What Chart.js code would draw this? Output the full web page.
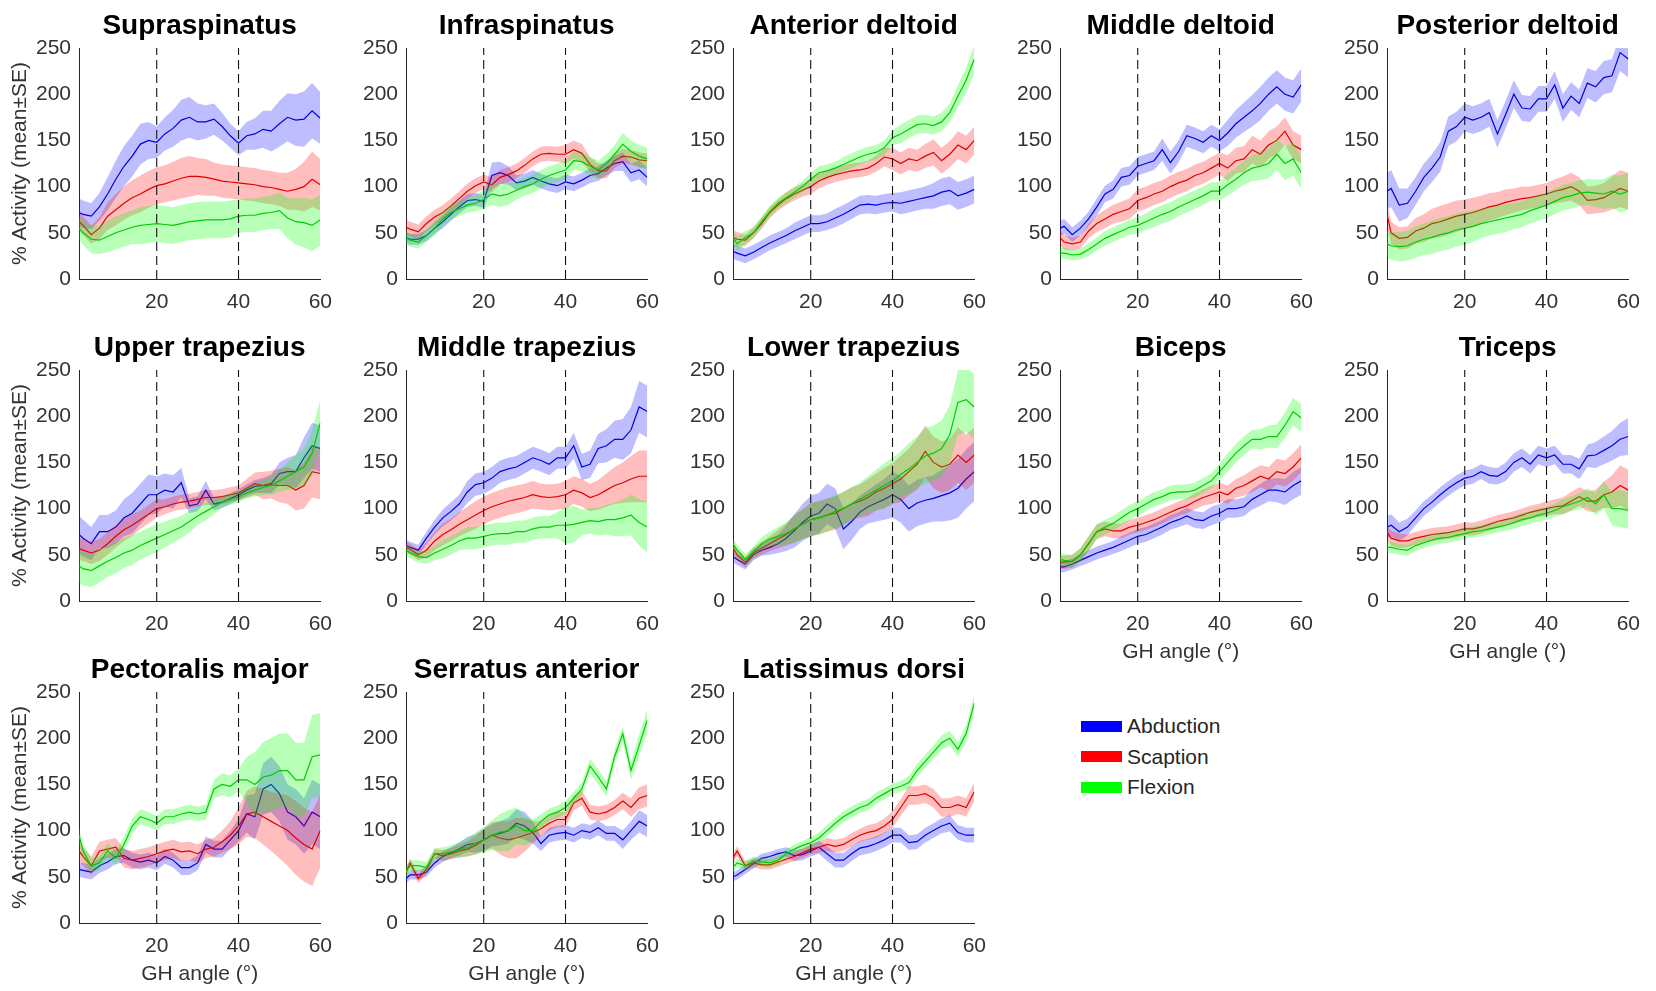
<!DOCTYPE html>
<html>
<head>
<meta charset="utf-8">
<title>Muscle activity across GH angle</title>
<script src="https://cdn.jsdelivr.net/npm/chart.js@4.4.1/dist/chart.umd.min.js"></script>
<style>
  html, body { margin: 0; padding: 0; background: #fff; overflow: hidden; }
  body { width: 1656px; height: 991px; position: relative; font-family: "Liberation Sans", Arial, Helvetica, sans-serif; }
  canvas { position: absolute; }
  .legend { position: absolute; left: 1081px; top: 711px; color: #262626; font-size: 21px; }
  .legend .row { height: 30.5px; display: flex; align-items: center; }
  .legend .sw { width: 41px; height: 11px; margin-right: 5px; }
</style>
</head>
<body>
<div class="legend" id="legend"></div>
<script>
// GH angle samples (deg) shared by every series
const ANGLES = [1, 2, 4, 6, 8, 10, 12, 14, 16, 18, 20, 22, 24, 26, 28, 30, 32, 34, 36, 38, 40, 42, 44, 46, 48, 50, 52, 54, 56, 58, 60];
const X_TICKS = [20, 40, 60];
const PHASE_LINES = [20, 40];
const MOVEMENTS = ['Abduction', 'Scaption', 'Flexion'];

// mean % activity and SE, one pair per muscle and movement
const SUP_ABD = [72,70,68,78,92,108,122,133,146,150,148,157,163,172,175,170,170,173,165,155,147,155,157,162,160,168,175,172,173,182,174];
const SUP_ABD_SE = [15,15,14,15,18,20,22,22,22,20,17,18,20,22,22,20,18,17,15,13,13,15,17,20,22,25,26,28,30,30,28];
const SUP_SCA = [62,58,48,55,68,75,82,88,92,97,101,103,106,109,111,111,110,108,106,105,104,103,102,100,99,97,95,97,100,108,102];
const SUP_SCA_SE = [10,10,10,12,15,17,18,19,20,20,20,20,21,22,22,20,20,18,18,18,18,18,18,18,18,18,20,22,27,30,28];
const SUP_FLX = [55,50,43,42,46,50,53,56,58,59,60,59,58,60,62,63,64,64,64,65,68,69,69,71,72,74,66,62,61,58,64];
const SUP_FLX_SE = [12,13,15,15,17,18,18,18,20,20,20,20,20,20,20,20,20,20,20,20,18,18,18,18,18,20,22,25,27,28,28];

const INF_ABD = [45,43,43,47,55,62,70,78,85,86,84,112,115,112,104,106,110,106,103,101,105,103,107,112,114,120,125,127,115,118,110];
const INF_ABD_SE = [6,6,6,6,6,7,7,7,7,7,7,14,12,10,8,8,8,8,8,8,8,8,8,8,8,8,8,10,10,10,10];
const INF_SCA = [56,54,51,60,67,72,79,87,95,101,105,102,110,113,117,123,130,135,136,135,135,140,136,124,117,117,128,133,132,129,128];
const INF_SCA_SE = [8,8,8,8,8,8,8,8,8,8,8,8,8,8,8,8,8,8,8,8,10,10,10,8,8,8,8,8,8,8,8];
const INF_FLX = [45,42,40,47,55,65,72,76,80,82,86,92,90,92,96,100,103,108,112,115,118,128,127,122,118,125,135,146,138,133,130];
const INF_FLX_SE = [7,7,7,7,8,8,8,8,8,9,10,12,12,12,10,10,10,10,10,10,10,10,10,10,10,10,10,12,12,12,12];

const ANT_ABD = [30,28,25,29,34,39,43,47,52,56,60,60,62,66,70,75,80,81,80,82,83,82,84,86,88,90,94,96,90,93,97];
const ANT_ABD_SE = [8,8,8,8,8,8,8,8,9,9,9,9,9,10,10,10,10,10,10,10,10,12,12,12,12,14,15,15,15,15,15];
const ANT_SCA = [45,43,42,50,60,72,80,87,92,96,100,106,110,113,115,117,118,120,125,132,130,125,130,128,133,137,128,135,145,140,150];
const ANT_SCA_SE = [8,8,6,6,6,6,6,7,7,7,8,8,8,8,8,8,8,8,9,10,12,12,12,12,13,14,14,14,15,15,15];
const ANT_FLX = [45,38,45,50,62,73,82,88,94,100,108,115,117,120,124,128,132,135,137,142,153,157,162,167,168,166,170,180,198,215,238];
const ANT_FLX_SE = [8,8,7,6,6,6,6,6,6,6,7,7,7,7,8,8,8,8,8,8,8,10,10,10,10,10,10,10,12,14,15];

const MID_ABD = [55,57,48,55,65,78,92,97,110,112,122,125,128,140,126,138,155,152,148,155,150,158,168,175,182,190,200,208,200,197,210];
const MID_ABD_SE = [8,8,8,8,8,9,9,10,10,10,10,10,10,12,12,12,12,12,12,12,12,14,15,16,17,18,18,18,18,18,18];
const MID_SCA = [45,40,38,40,52,60,65,70,73,76,85,88,92,95,100,104,107,112,115,120,125,120,128,130,140,135,145,150,160,145,140];
const MID_SCA_SE = [8,8,7,7,8,9,10,10,11,11,12,12,12,12,12,12,12,12,12,12,12,14,14,14,15,15,15,15,15,15,15];
const MID_FLX = [28,28,26,27,32,38,44,48,52,56,58,62,66,70,73,78,82,86,90,95,95,102,108,115,120,122,125,135,125,130,115];
const MID_FLX_SE = [6,6,6,6,7,7,8,8,8,8,9,9,10,10,10,10,10,10,10,10,10,12,12,13,14,15,16,17,18,18,18];

const POS_ABD = [95,98,80,82,95,110,120,132,160,165,175,172,175,180,157,178,200,185,184,195,195,210,185,198,190,212,208,218,220,245,238];
const POS_ABD_SE = [20,20,18,16,15,15,15,16,16,16,15,15,15,15,15,15,15,14,14,14,14,15,15,15,15,16,17,18,18,20,20];
const POS_SCA = [70,50,44,45,52,55,60,62,65,68,70,72,75,78,80,83,85,87,88,90,92,95,97,100,95,85,86,88,93,98,95];
const POS_SCA_SE = [12,12,12,12,14,15,16,17,17,17,16,16,15,15,14,14,13,13,12,12,12,13,14,15,15,15,15,16,18,20,20];
const POS_FLX = [38,36,35,36,40,43,45,48,50,53,55,57,60,62,64,66,68,70,74,77,80,84,88,90,93,94,93,92,95,92,95];
const POS_FLX_SE = [15,15,16,16,17,17,18,18,18,18,18,17,16,15,15,15,14,14,14,14,14,14,14,14,14,14,15,16,18,20,20];

const UPP_ABD = [72,68,62,75,75,80,90,95,105,115,115,120,118,128,103,105,120,105,107,111,115,120,124,125,127,138,140,140,155,168,165];
const UPP_ABD_SE = [20,20,18,18,18,18,20,22,22,22,20,18,18,16,8,8,10,7,6,6,6,6,7,8,10,12,15,18,22,25,25];
const UPP_SCA = [57,55,52,55,62,70,77,82,88,94,100,102,105,107,108,110,112,112,113,115,117,122,127,125,126,125,125,120,125,140,138];
const UPP_SCA_SE = [12,12,12,12,12,12,12,12,10,10,10,8,8,8,8,8,8,8,8,8,8,10,12,15,15,18,20,22,25,28,28];
const UPP_FLX = [38,35,33,38,43,47,52,55,60,64,68,72,76,80,86,92,97,102,107,110,113,117,120,123,125,130,135,140,145,160,193];
const UPP_FLX_SE = [18,18,18,18,17,17,16,16,15,15,15,14,13,12,12,10,10,8,6,6,6,6,7,8,10,12,15,18,20,25,25];

const MTR_ABD = [60,58,55,68,80,90,97,105,118,126,128,133,140,143,145,150,155,152,148,155,155,168,145,148,165,168,175,175,185,210,205];
const MTR_ABD_SE = [6,6,6,7,8,9,10,10,12,12,12,12,12,12,12,12,12,12,12,12,12,14,14,15,16,18,20,22,25,28,28];
const MTR_SCA = [58,56,50,55,65,72,77,83,88,93,98,102,105,108,110,112,115,113,112,113,115,120,117,112,115,120,125,128,132,135,135];
const MTR_SCA_SE = [6,6,6,8,10,12,12,13,14,15,15,15,15,15,15,15,15,14,14,14,15,15,15,15,16,18,20,22,25,28,28];
const MTR_FLX = [55,52,48,47,52,56,60,65,68,68,70,72,73,73,75,75,78,80,80,82,82,83,85,87,86,88,88,90,93,85,80];
const MTR_FLX_SE = [6,6,6,7,8,10,10,10,12,12,12,12,12,12,12,12,12,12,12,14,20,20,14,14,15,16,18,20,22,25,28];

const LTR_ABD = [48,45,40,50,55,58,62,68,76,85,92,95,105,100,78,86,96,102,106,110,115,110,100,106,109,111,114,117,122,132,140];
const LTR_ABD_SE = [6,6,6,6,6,8,10,14,18,20,22,22,22,22,22,20,18,18,20,22,25,25,25,25,25,25,28,30,32,32,32];
const LTR_SCA = [58,50,42,52,57,62,67,72,78,83,88,90,93,95,100,105,108,112,118,122,127,132,140,148,162,150,145,148,158,150,158];
const LTR_SCA_SE = [6,6,6,6,7,8,10,12,15,16,18,18,18,18,18,18,18,20,20,22,22,25,25,28,28,28,28,28,30,30,30];
const LTR_FLX = [62,55,45,53,62,67,70,73,78,83,88,90,93,97,100,105,110,115,120,125,130,137,143,150,157,160,165,180,215,218,210];
const LTR_FLX_SE = [6,6,6,6,7,8,10,12,15,16,18,18,18,18,18,18,18,20,22,24,25,25,28,28,30,30,30,32,35,35,35];

const BIC_ABD = [37,37,40,44,48,52,55,58,62,66,70,72,76,80,85,88,92,88,87,92,95,100,100,102,110,115,120,120,118,125,130];
const BIC_ABD_SE = [6,6,6,6,7,7,7,7,8,8,8,8,8,8,8,8,9,9,9,10,10,10,10,10,11,12,12,13,14,15,15];
const BIC_SCA = [42,42,43,50,62,75,78,76,76,80,82,85,88,92,96,100,103,108,112,115,118,115,122,125,130,135,132,140,138,145,155];
const BIC_SCA_SE = [7,7,7,7,8,8,8,8,8,8,8,8,8,8,8,8,8,9,9,10,10,10,10,11,12,12,13,14,14,15,15];
const BIC_FLX = [45,44,43,50,62,75,80,84,90,96,100,105,110,113,117,118,118,120,125,130,140,150,160,168,175,175,178,178,190,205,198];
const BIC_FLX_SE = [7,7,7,7,8,8,8,8,8,8,8,8,8,8,8,8,8,8,8,8,9,10,10,10,10,11,12,13,14,15,15];

const TRI_ABD = [80,82,75,80,90,100,107,115,122,128,133,135,140,136,135,140,150,155,148,158,155,158,148,148,143,157,158,163,168,175,178];
const TRI_ABD_SE = [12,12,10,9,8,8,8,8,8,8,8,8,8,9,9,10,10,10,10,10,10,10,10,10,11,12,14,15,16,18,20];
const TRI_SCA = [75,68,65,65,68,70,72,73,74,76,78,78,80,83,86,88,90,93,96,98,100,102,103,108,113,108,108,115,118,125,120];
const TRI_SCA_SE = [8,8,8,7,7,7,7,7,7,7,7,7,7,7,7,7,7,7,7,7,8,8,9,10,10,11,12,14,18,22,22];
const TRI_FLX = [58,58,56,55,60,63,66,68,69,71,73,75,76,78,80,82,85,88,90,93,95,98,102,105,108,112,105,115,100,100,98];
const TRI_FLX_SE = [6,6,6,6,6,6,6,6,6,6,6,6,6,6,6,6,7,7,7,7,7,7,8,8,9,10,12,15,18,20,20];

const PEC_ABD = [58,57,55,62,66,72,73,68,66,68,65,72,68,60,60,65,85,80,80,90,100,118,115,145,150,140,120,115,105,120,115];
const PEC_ABD_SE = [8,8,8,8,8,8,8,8,8,8,8,8,8,8,8,8,9,9,9,10,12,20,25,28,30,30,30,30,30,35,35];
const PEC_SCA = [78,72,62,78,80,82,70,68,70,72,75,78,80,77,78,75,80,82,88,95,105,118,120,115,110,105,100,92,85,80,100];
const PEC_SCA_SE = [10,10,10,10,10,10,10,10,10,10,10,10,10,10,10,10,10,10,12,15,20,25,28,30,32,35,38,40,40,40,40];
const PEC_FLX = [95,78,62,65,78,70,85,105,115,112,108,115,115,118,120,118,120,145,150,148,155,155,150,158,160,165,165,155,155,180,182];
const PEC_FLX_SE = [8,8,8,8,8,8,8,8,8,8,8,8,8,8,8,8,8,10,12,12,12,25,35,38,40,40,40,40,40,45,45];

const SER_ABD = [48,52,52,55,65,72,76,80,85,86,90,95,97,100,108,105,98,86,95,97,98,95,100,98,103,97,97,90,100,110,105];
const SER_ABD_SE = [5,5,5,5,5,6,6,7,8,10,12,12,13,14,15,15,12,8,8,8,8,8,8,8,8,8,8,10,10,12,12];
const SER_SCA = [55,65,48,58,75,73,75,78,80,84,90,95,92,90,92,95,98,102,108,112,112,130,135,120,118,120,125,132,125,135,138];
const SER_SCA_SE = [5,5,5,5,5,6,6,7,8,10,12,14,18,20,22,18,12,8,8,8,8,8,8,8,8,8,8,9,10,12,12];
const SER_FLX = [55,62,62,60,75,75,77,79,82,86,90,95,98,100,105,100,100,110,117,120,125,135,145,170,158,145,180,205,165,192,220];
const SER_FLX_SE = [6,6,6,6,6,7,7,8,10,12,14,16,20,22,20,16,12,8,7,7,7,7,7,8,8,8,8,8,10,12,12];

const LAT_ABD = [50,52,58,64,70,72,75,77,73,74,78,82,75,68,68,75,81,83,86,90,95,95,87,88,95,100,105,108,98,95,95];
const LAT_ABD_SE = [5,5,5,5,5,5,5,5,6,6,6,7,8,8,8,8,8,8,8,8,8,8,8,8,8,8,8,9,8,8,8];
const LAT_SCA = [70,78,62,65,63,63,66,69,72,76,80,82,85,83,85,90,95,98,100,105,112,125,138,138,140,135,125,125,128,125,142];
const LAT_SCA_SE = [5,5,5,5,5,5,5,5,5,5,6,6,7,7,7,7,7,8,8,8,9,9,10,10,10,10,10,10,10,10,10];
const LAT_FLX = [60,65,62,67,66,65,68,75,80,84,87,92,100,108,115,120,125,128,135,140,145,148,152,165,175,185,195,200,188,205,238];
const LAT_FLX_SE = [5,5,5,5,5,5,5,5,5,5,6,6,6,6,6,6,6,6,6,6,6,6,7,7,7,7,8,8,8,9,10];

const PANELS = [
  { name: 'Supraspinatus',      mean: [SUP_ABD, SUP_SCA, SUP_FLX], se: [SUP_ABD_SE, SUP_SCA_SE, SUP_FLX_SE] },
  { name: 'Infraspinatus',      mean: [INF_ABD, INF_SCA, INF_FLX], se: [INF_ABD_SE, INF_SCA_SE, INF_FLX_SE] },
  { name: 'Anterior deltoid',   mean: [ANT_ABD, ANT_SCA, ANT_FLX], se: [ANT_ABD_SE, ANT_SCA_SE, ANT_FLX_SE] },
  { name: 'Middle deltoid',     mean: [MID_ABD, MID_SCA, MID_FLX], se: [MID_ABD_SE, MID_SCA_SE, MID_FLX_SE] },
  { name: 'Posterior deltoid',  mean: [POS_ABD, POS_SCA, POS_FLX], se: [POS_ABD_SE, POS_SCA_SE, POS_FLX_SE] },
  { name: 'Upper trapezius',    mean: [UPP_ABD, UPP_SCA, UPP_FLX], se: [UPP_ABD_SE, UPP_SCA_SE, UPP_FLX_SE] },
  { name: 'Middle trapezius',   mean: [MTR_ABD, MTR_SCA, MTR_FLX], se: [MTR_ABD_SE, MTR_SCA_SE, MTR_FLX_SE] },
  { name: 'Lower trapezius',    mean: [LTR_ABD, LTR_SCA, LTR_FLX], se: [LTR_ABD_SE, LTR_SCA_SE, LTR_FLX_SE] },
  { name: 'Biceps',             mean: [BIC_ABD, BIC_SCA, BIC_FLX], se: [BIC_ABD_SE, BIC_SCA_SE, BIC_FLX_SE] },
  { name: 'Triceps',            mean: [TRI_ABD, TRI_SCA, TRI_FLX], se: [TRI_ABD_SE, TRI_SCA_SE, TRI_FLX_SE] },
  { name: 'Pectoralis major',   mean: [PEC_ABD, PEC_SCA, PEC_FLX], se: [PEC_ABD_SE, PEC_SCA_SE, PEC_FLX_SE] },
  { name: 'Serratus anterior',  mean: [SER_ABD, SER_SCA, SER_FLX], se: [SER_ABD_SE, SER_SCA_SE, SER_FLX_SE] },
  { name: 'Latissimus dorsi',   mean: [LAT_ABD, LAT_SCA, LAT_FLX], se: [LAT_ABD_SE, LAT_SCA_SE, LAT_FLX_SE] }
];

// ── styling / layout ──────────────────────────────────────────────────────
const FONT = '"Liberation Sans", Arial, Helvetica, sans-serif';
const SWATCH = ['#0000ff', '#ff0000', '#00ff00'];
const LINE = ['#0000e0', '#e00000', '#00cc00'];
const BAND = ['rgba(0,0,255,0.26)', 'rgba(255,0,0,0.26)', 'rgba(0,255,0,0.28)'];
const AXIS = '#262626';
const TEXT = '#333333';

const COL_X = [79, 406, 733, 1060, 1387];   // plot-area left edges
const ROW_Y = [48, 370, 692];               // plot-area top edges
const PLOT_W = 248, PLOT_H = 231;
const Y_AXIS_W = 78, TITLE_H = 48, RIGHT_PAD = 16;

Chart.defaults.font.family = FONT;

const toPoints = values => ANGLES.map((a, i) => ({ x: a, y: values[i] }));

PANELS.forEach((panel, idx) => {
    const row = Math.floor(idx / 5), col = idx % 5;
    const showXTitle = row === 2 || (row === 1 && col >= 3);
    const bottomH = showXTitle ? 72 : 34;

    const canvas = document.createElement('canvas');
    canvas.width = Y_AXIS_W + PLOT_W + RIGHT_PAD;
    canvas.height = TITLE_H + PLOT_H + bottomH;
    canvas.style.left = (COL_X[col] - Y_AXIS_W) + 'px';
    canvas.style.top = (ROW_Y[row] - TITLE_H) + 'px';
    document.body.appendChild(canvas);

    // band (upper filled to lower) then mean line, per movement
    const datasets = [];
    panel.mean.forEach((mean, k) => {
        const se = panel.se[k];
        const z = 6 - 2 * k;
        datasets.push({
            data: toPoints(mean.map((v, i) => v + se[i])),
            fill: '+1', backgroundColor: BAND[k], borderColor: 'transparent',
            borderWidth: 0, pointRadius: 0, order: z
        });
        datasets.push({
            data: toPoints(mean.map((v, i) => v - se[i])),
            fill: false, borderColor: 'transparent', borderWidth: 0, pointRadius: 0, order: z
        });
        datasets.push({
            data: toPoints(mean), fill: false, borderColor: LINE[k],
            borderWidth: 1.2, pointRadius: 0, tension: 0, order: z - 1
        });
    });
    PHASE_LINES.forEach(x => {
        datasets.push({
            data: [{ x, y: 0 }, { x, y: 250 }], fill: false,
            borderColor: '#111', borderWidth: 1.1, borderDash: [9, 5], pointRadius: 0, order: 0
        });
    });

    new Chart(canvas, {
        type: 'line',
        data: { datasets },
        options: {
            responsive: false,
            animation: false,
            events: [],
            layout: { padding: { left: 0, right: RIGHT_PAD, top: 0, bottom: 0 } },
            plugins: {
                legend: { display: false },
                tooltip: { enabled: false },
                title: {
                    display: true, text: panel.name, fullSize: false, color: '#000',
                    font: { size: 28, weight: 'bold', lineHeight: 1.2 },
                    padding: { top: 9, bottom: 5.4 }
                }
            },
            scales: {
                x: {
                    type: 'linear', min: 1, max: 60,
                    afterBuildTicks: s => { s.ticks = X_TICKS.map(v => ({ value: v })); },
                    afterFit: s => { s.height = bottomH; },
                    grid: { display: false, drawTicks: false },
                    border: { display: true, color: AXIS, width: 1 },
                    ticks: { color: TEXT, font: { size: 21 }, padding: 11, maxRotation: 0, autoSkip: false },
                    title: {
                        display: showXTitle, text: 'GH angle (°)', color: TEXT,
                        font: { size: 21 }, padding: { top: 0, bottom: 8 }
                    }
                },
                y: {
                    type: 'linear', min: 0, max: 250,
                    afterFit: s => { s.width = Y_AXIS_W; },
                    grid: { display: false, drawTicks: false },
                    border: { display: true, color: AXIS, width: 1 },
                    ticks: { stepSize: 50, color: TEXT, font: { size: 21 }, padding: 8 },
                    title: {
                        display: col === 0, text: '% Activity (mean±SE)', color: TEXT,
                        font: { size: 21 }, padding: { top: 7, bottom: 0 }
                    }
                }
            }
        }
    });
});

// ── legend ────────────────────────────────────────────────────────────────
const legend = document.getElementById('legend');
MOVEMENTS.forEach((m, k) => {
    const row = document.createElement('div');
    row.className = 'row';
    row.innerHTML = `<span class="sw" style="background:${SWATCH[k]}"></span><span>${m}</span>`;
    legend.appendChild(row);
});
</script>
</body>
</html>
